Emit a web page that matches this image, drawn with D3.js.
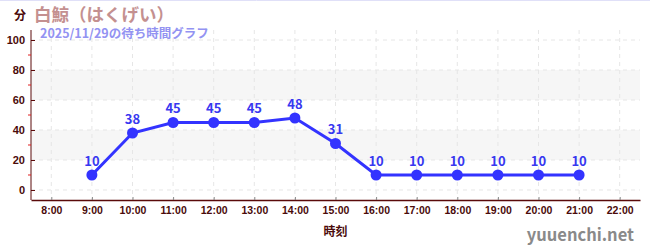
<!DOCTYPE html>
<html>
  <head>
    <meta charset="utf-8">
    <script src="https://d3js.org/d3.v7.min.js"></script>
    <style>
      body { margin: 0; background: #fff; }
      svg { font-family: "Noto Sans CJK JP", "Noto Sans", sans-serif; display: block; }
    </style>
  </head>
  <body>
    <div id="chart"></div>
    <script>
      // hours on the x axis
      const hours = [8, 9, 10, 11, 12, 13, 14, 15, 16, 17, 18, 19, 20, 21, 22];
      // measured hours and wait minutes
      const times = [9, 10, 11, 12, 13, 14, 15, 16, 17, 18, 19, 20, 21];
      const waits = [10, 38, 45, 45, 45, 48, 31, 10, 10, 10, 10, 10, 10];
      const yTicks = [0, 20, 40, 60, 80, 100];
      const yMinor = [10, 30, 50, 70, 90];
      const bands = [[20, 40], [60, 80]];

      const width = 650, height = 250;
      const margin = {top: 30, right: 10, bottom: 50, left: 31};

      const svg = d3.select("#chart").append("svg")
        .attr("width", width)
        .attr("height", height);

      const x = d3.scaleLinear().domain([7.5, 22.5]).range([margin.left, width - margin.right]);
      const y = d3.scaleLinear().domain([-6.67, 106.67]).range([height - margin.bottom, margin.top]);

      // top border
      svg.append("line")
        .attr("x1", 0).attr("x2", width).attr("y1", 0.5).attr("y2", 0.5)
        .attr("stroke", "#e0e0f8");

      // bands
      svg.append("g").selectAll("rect")
        .data(bands)
        .enter().append("rect")
        .attr("x", x(7.5))
        .attr("width", x(22.5) - x(7.5))
        .attr("y", d => y(d[1]))
        .attr("height", d => y(d[0]) - y(d[1]))
        .attr("fill", "#f6f6f6");

      // grid
      const grid = svg.append("g")
        .attr("stroke", "#e6e6e6")
        .attr("stroke-dasharray", "4,4");
      grid.selectAll(".vg").data(hours).enter().append("line")
        .attr("x1", d => x(d)).attr("x2", d => x(d))
        .attr("y1", margin.top).attr("y2", height - margin.bottom);
      grid.selectAll(".hg").data(yTicks).enter().append("line")
        .attr("x1", margin.left).attr("x2", width - margin.right)
        .attr("y1", d => y(d)).attr("y2", d => y(d));

      // y axis
      const yAxis = svg.append("g")
        .attr("transform", `translate(${margin.left},0)`)
        .call(d3.axisLeft(y).tickValues(yTicks).tickSize(4).tickSizeOuter(0))
        .call(g => g.selectAll(".tick line").attr("x2", 4).attr("stroke", "#5a0a0a"))
        .call(g => g.select(".domain").attr("stroke", "#5a0a0a").attr("d", `M0,${margin.top}V${height - margin.bottom}`))
        .call(g => g.selectAll("text").attr("fill", "#4a0a0a").attr("font-size", 11).attr("font-weight", "bold").attr("x", -6));

      yAxis.selectAll(".minor").data(yMinor).enter().append("line")
        .attr("x1", -3).attr("x2", 0)
        .attr("y1", d => y(d)).attr("y2", d => y(d))
        .attr("stroke", "#e02020");

      // x axis
      svg.append("g")
        .attr("transform", `translate(0,${height - margin.bottom})`)
        .call(d3.axisBottom(x).tickValues(hours).tickFormat(d => d + ":00").tickSizeOuter(0))
        .call(g => g.selectAll(".tick line").attr("y1", -3).attr("y2", 0).attr("stroke", "#888"))
        .call(g => g.select(".domain").attr("stroke", "#5a0a0a").attr("stroke-width", 1.5))
        .call(g => g.selectAll("text").attr("fill", "#4a0a0a").attr("font-size", 10.5).attr("font-weight", "bold").attr("y", 7));

      // line
      const pts = times.map((t, i) => ({t: t, v: waits[i]}));
      svg.append("path")
        .datum(pts)
        .attr("fill", "none")
        .attr("stroke", "#3333ff")
        .attr("stroke-width", 3)
        .attr("d", d3.line().x(d => x(d.t)).y(d => y(d.v)));

      svg.append("g").selectAll("circle")
        .data(pts)
        .enter().append("circle")
        .attr("cx", d => x(d.t))
        .attr("cy", d => y(d.v))
        .attr("r", 5.5)
        .attr("fill", "#3333ff");

      svg.append("g").selectAll("text")
        .data(pts)
        .enter().append("text")
        .attr("x", d => x(d.t))
        .attr("y", d => y(d.v) - 9)
        .attr("text-anchor", "middle")
        .attr("font-size", 13)
        .attr("font-weight", "bold")
        .attr("fill", "#3838f0")
        .text(d => d.v);

      // titles
      svg.append("text")
        .attr("x", 14).attr("y", 20)
        .attr("font-size", 12).attr("font-weight", "bold").attr("fill", "#4a0a0a")
        .text("分");
      svg.append("text")
        .attr("x", 34).attr("y", 20.5)
        .attr("font-size", 17.5).attr("font-weight", "bold").attr("fill", "#c49090")
        .text("白鯨（はくげい）");
      svg.append("text")
        .attr("x", 40).attr("y", 38)
        .attr("font-size", 12.5).attr("font-weight", "bold").attr("fill", "#9393f2")
        .text("2025/11/29の待ち時間グラフ");

      svg.append("text")
        .attr("x", x(15)).attr("y", 236)
        .attr("text-anchor", "middle")
        .attr("font-size", 12).attr("font-weight", "bold").attr("fill", "#4a0a0a")
        .text("時刻");

      svg.append("text")
        .attr("x", 634).attr("y", 241)
        .attr("text-anchor", "end")
        .attr("font-size", 16.5).attr("font-weight", "bold").attr("fill", "#8a8a8a")
        .text("yuuenchi.net");
    </script>
  </body>
</html>
